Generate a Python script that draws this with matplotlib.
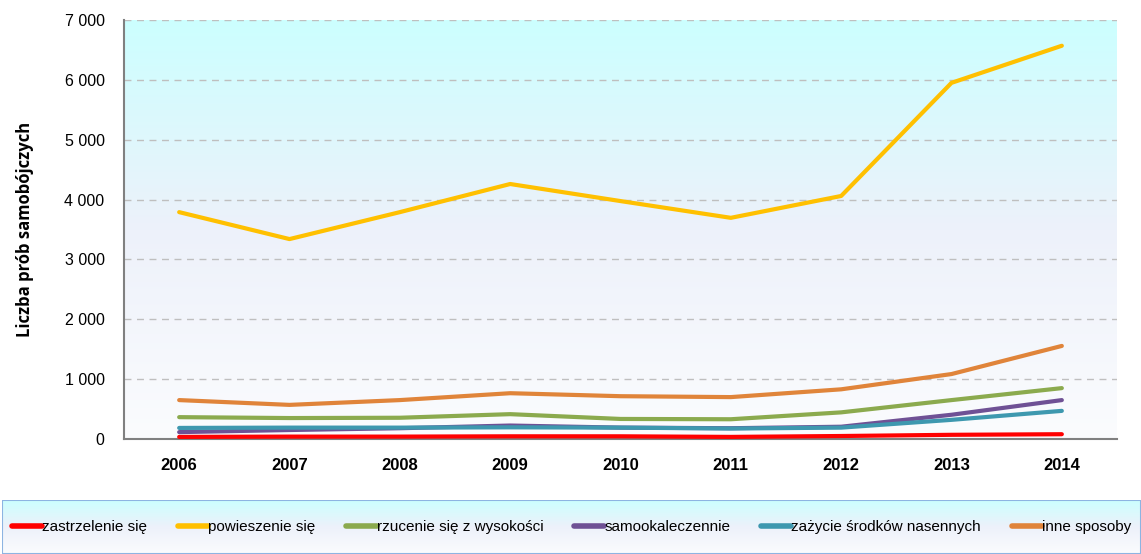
import numpy as np
import matplotlib
matplotlib.use("Agg")
import matplotlib.pyplot as plt
from matplotlib.colors import LinearSegmentedColormap
from matplotlib.patches import Rectangle

years = ["2006", "2007", "2008", "2009", "2010", "2011", "2012", "2013", "2014"]
zastrzelenie = [35, 40, 40, 45, 45, 35, 50, 70, 80]
powieszenie = [3790, 3340, 3790, 4260, 3975, 3695, 4060, 5950, 6570]
rzucenie = [365, 350, 355, 415, 335, 330, 445, 650, 850]
samookaleczenie = [115, 150, 180, 225, 190, 180, 205, 405, 650]
srodki = [185, 190, 190, 195, 190, 175, 190, 320, 470]
inne = [650, 570, 650, 765, 715, 700, 830, 1085, 1555]

names = ["zastrzelenie się", "powieszenie się", "rzucenie się z wysokości",
         "samookaleczennie", "zażycie środków nasennych", "inne sposoby"]
colors = ["#FF0000", "#FFC000", "#8BAA4E", "#6F5195", "#3E98AF", "#E0843A"]
series = [zastrzelenie, powieszenie, rzucenie, samookaleczenie, srodki, inne]

W, H = 1141, 554
fig = plt.figure(figsize=(W / 100, H / 100), dpi=100)
ax = fig.add_axes([124 / W, (H - 439) / H, 993 / W, 419 / H])

grad = LinearSegmentedColormap.from_list(
    "bg", [(0.0, "#CCFFFF"), (0.5, "#EDF1FA"), (1.0, "#FBFCFE")])
x = np.arange(len(years))
# row 0 (cyan) goes to the top
ax.imshow(np.linspace(0, 1, 256).reshape(-1, 1), cmap=grad, aspect="auto",
          extent=(-0.5, 8.5, 0, 7000), origin="upper", zorder=0)

for s, c, n in zip(series, colors, names):
    ax.plot(x, s, color=c, lw=3, label=n, solid_capstyle="round", zorder=3)

ax.set_xlim(-0.5, 8.5)
ax.set_ylim(0, 7000)
ax.set_yticks(range(0, 7001, 1000))
ax.set_yticklabels(["0"] + ["%d 000" % i for i in range(1, 8)],
                   fontsize=11.5, family="Liberation Sans")
ax.set_xticks(x)
ax.set_xticklabels(years, fontsize=12, fontweight="bold", family="Liberation Sans")
ax.tick_params(length=0, pad=14)
ax.tick_params(axis="x", pad=14)
for sp in ["top", "right"]:
    ax.spines[sp].set_visible(False)
for sp in ["left", "bottom"]:
    ax.spines[sp].set_color("#808080")
    ax.spines[sp].set_linewidth(1.5)
ax.yaxis.grid(True, linestyle=(0, (5, 4)), color="#BFBFBF", lw=1, zorder=1)
ax.set_axisbelow(True)
ax.set_ylabel("Liczba prób samobójczych", fontsize=12, fontweight="bold",
              family="Open Sans", labelpad=22)

# legend box with gradient
lax = fig.add_axes([2 / W, 0, (W - 2) / W, (H - 500) / H])
lax.imshow(np.linspace(0, 1, 64).reshape(-1, 1), cmap=grad, aspect="auto",
           extent=(0, 1, 0, 1), origin="upper", zorder=0)
lax.set_xlim(0, 1)
lax.set_ylim(0, 1)
lax.axis("off")
lax.add_patch(Rectangle((0, 0), 1, 1, transform=lax.transAxes, fill=False,
                        edgecolor="#8DB4E2", lw=1.5, zorder=2))
handles, labels = ax.get_legend_handles_labels()
leg = lax.legend(handles, labels, ncol=6, loc="center", frameon=False,
                 prop={"family": "Liberation Sans", "size": 11},
                 handlelength=2.0, handletextpad=0.0, columnspacing=2.0,
                 bbox_to_anchor=(0.5, 0.5))
for l in leg.get_lines():
    l.set_linewidth(4)

fig.savefig("out.png", dpi=100)
